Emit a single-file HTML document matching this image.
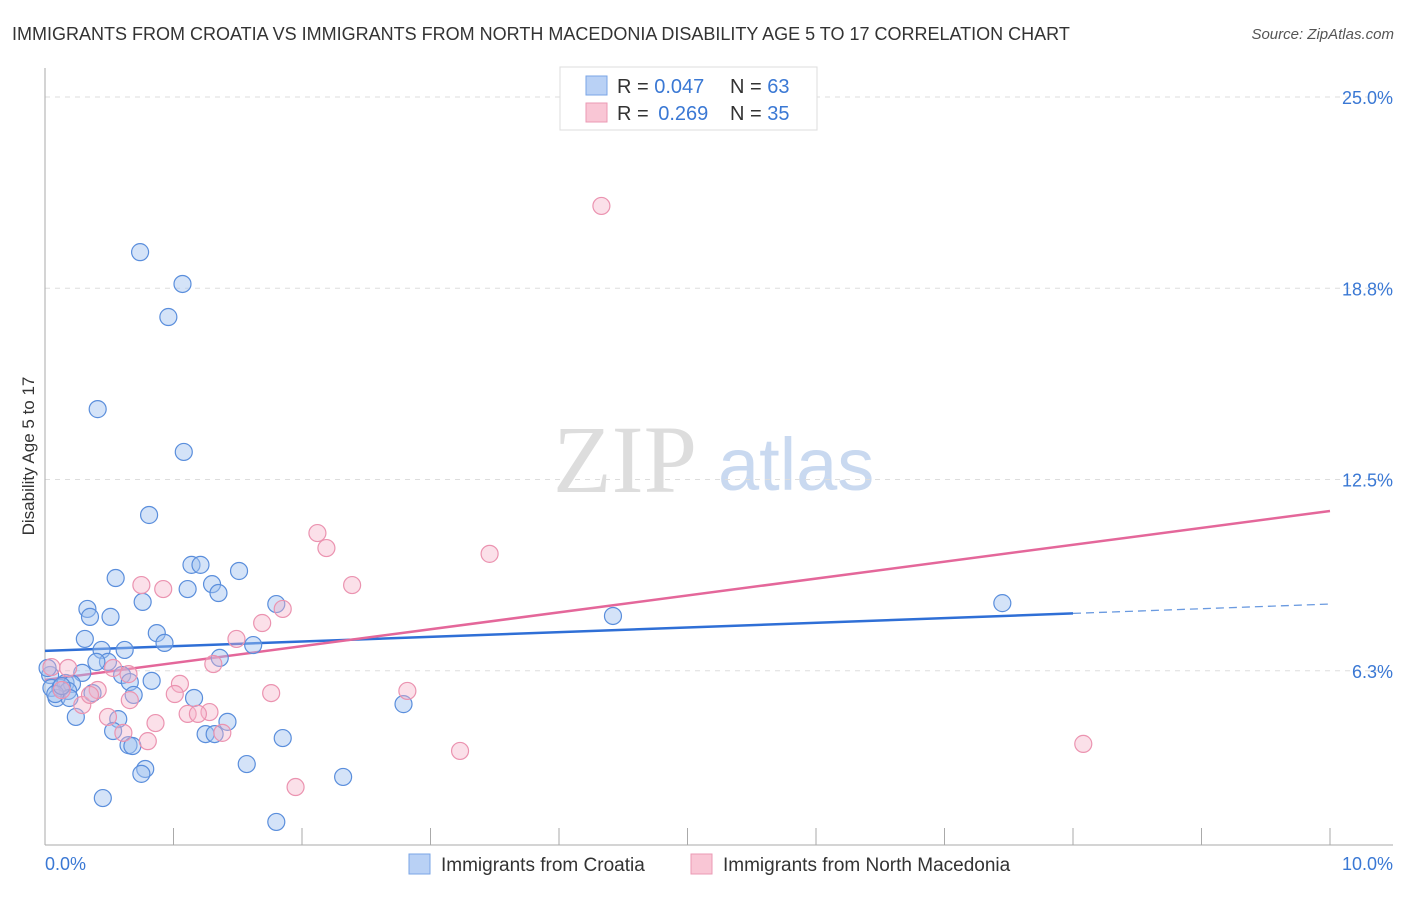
<!DOCTYPE html>
<html><head><meta charset="utf-8"><style>
body{margin:0;background:#fff;font-family:"Liberation Sans",sans-serif}
svg text{font-family:"Liberation Sans",sans-serif}
</style></head><body>
<svg id="c" width="1406" height="892" viewBox="0 0 1406 892" xmlns="http://www.w3.org/2000/svg">
<text x="12" y="40" font-size="18" fill="#333">IMMIGRANTS FROM CROATIA VS IMMIGRANTS FROM NORTH MACEDONIA DISABILITY AGE 5 TO 17 CORRELATION CHART</text>
<text x="1394" y="39" font-size="15" fill="#555" font-style="italic" text-anchor="end">Source: ZipAtlas.com</text>
<text x="0" y="0" transform="translate(34,456) rotate(-90)" font-size="17" fill="#333" text-anchor="middle">Disability Age 5 to 17</text>
<g>
<text x="553" y="492" font-size="96" fill="#ddd" font-family="Liberation Serif,serif" style="font-family:'Liberation Serif',serif">ZIP</text>
<text x="718" y="490" font-size="74" fill="#c9d9f0">atlas</text>
</g>
<g id="grid"></g>
<g id="axes"></g>
<g id="lines"></g>
<g id="pts"></g>
<g>
<rect x="560" y="67" width="257" height="63" fill="#fff" stroke="#ddd"/>
<rect x="586" y="76" width="21" height="19" fill="#b9d1f5" stroke="#7aa5e6"/>
<rect x="586" y="103" width="21" height="19" fill="#f9c6d5" stroke="#eb9ab4"/>
<text x="617" y="93" font-size="20" fill="#333">R = <tspan fill="#3a78d4">0.047</tspan></text>
<text x="730" y="93" font-size="20" fill="#333">N = <tspan fill="#3a78d4">63</tspan></text>
<text x="617" y="120" font-size="20" fill="#333">R = <tspan fill="#3a78d4" dx="4">0.269</tspan></text>
<text x="730" y="120" font-size="20" fill="#333">N = <tspan fill="#3a78d4">35</tspan></text>
</g>
<g>
<rect x="409" y="854" width="21" height="20" fill="#b9d1f5" stroke="#7aa5e6"/>
<text x="441" y="871" font-size="19" fill="#333">Immigrants from Croatia</text>
<rect x="691" y="854" width="21" height="20" fill="#f9c6d5" stroke="#eb9ab4"/>
<text x="723" y="871" font-size="19" fill="#333">Immigrants from North Macedonia</text>
</g>
</svg>
<script>
const blueX=[0.74,1.07,0.96,0.41,1.08,0.81,0.55,1.14,1.21,1.51,0.76,1.11,1.30,1.35,0.33,0.35,0.51,1.80,0.87,0.31,0.93,1.62,0.62,0.44,0.49,0.40,1.36,0.29,0.60,0.66,0.83,0.04,0.05,0.12,0.16,0.21,0.18,0.09,0.19,0.37,0.69,1.16,0.24,0.57,1.42,0.53,1.25,1.32,1.85,0.65,0.68,0.78,0.75,1.57,2.32,0.45,1.80,2.79,4.42,7.45,0.02,0.08,0.13];
const blueY=[19.93,18.89,17.81,14.80,13.40,11.34,9.28,9.71,9.71,9.51,8.50,8.92,9.08,8.79,8.27,8.01,8.01,8.43,7.48,7.29,7.16,7.09,6.93,6.93,6.54,6.54,6.67,6.18,6.11,5.88,5.92,6.11,5.69,5.69,5.85,5.82,5.59,5.36,5.36,5.52,5.46,5.36,4.74,4.67,4.58,4.28,4.18,4.18,4.05,3.82,3.79,3.04,2.88,3.20,2.78,2.09,1.31,5.16,8.04,8.46,6.34,5.49,5.75];
const pinkX=[4.33,2.12,2.19,3.46,2.39,0.75,0.92,1.85,1.69,1.49,1.31,0.18,0.53,0.65,0.41,1.05,1.01,1.76,2.82,0.66,0.29,1.28,1.11,1.19,0.86,0.49,0.61,1.38,0.80,3.23,1.95,8.08,0.05,0.13,0.35];
const pinkY=[21.44,10.75,10.26,10.07,9.05,9.05,8.92,8.27,7.81,7.29,6.47,6.34,6.34,6.14,5.62,5.82,5.49,5.52,5.59,5.29,5.13,4.90,4.84,4.84,4.54,4.74,4.22,4.22,3.95,3.63,2.45,3.86,6.37,5.62,5.46];
const yTicks=[6.25,12.5,18.75,25];
const yTickLabels=["6.3%","12.5%","18.8%","25.0%"];
const xTicks=[0,1,2,3,4,5,6,7,8,9,10];
const blueTrend=[6.90,8.43];
const pinkTrend=[5.95,11.47];
const blueSolidEnd=8.0;

const NS="http://www.w3.org/2000/svg";
const sx=v=>45+v*128.5;
const sy=v=>862-v*30.6;
function mk(tag,attrs,parent){const e=document.createElementNS(NS,tag);for(const k in attrs)e.setAttribute(k,attrs[k]);document.getElementById(parent).appendChild(e);return e;}
yTicks.forEach((t,i)=>{
  const g=mk('line',{x1:45,x2:1393,y1:sy(t),y2:sy(t),stroke:'#ddd','stroke-dasharray':'5,5'},'grid');
  
  
  const l=mk('text',{x:1393,y:sy(t)+7,'font-size':18,fill:'#3a78d4','text-anchor':'end'},'axes');
  l.textContent=yTickLabels[i];
  
  
});
const ya=mk('line',{x1:45,x2:45,y1:68,y2:845,stroke:'#aaa'},'axes');


const xa=mk('line',{x1:45,x2:1393,y1:845,y2:845,stroke:'#aaa'},'axes');


xTicks.forEach(t=>{
  const k=mk('line',{x1:sx(t),x2:sx(t),y1:828,y2:845,stroke:'#aaa'},'axes');
  
  
});
const x0=mk('text',{x:45,y:870,'font-size':18,fill:'#3a78d4'},'axes');x0.textContent='0.0%';


const x1=mk('text',{x:1393,y:870,'font-size':18,fill:'#3a78d4','text-anchor':'end'},'axes');x1.textContent='10.0%';



function pts(X,Y,fill,stroke,name){
  X.forEach((x,i)=>{
    const c=mk('circle',{cx:sx(x),cy:sy(Y[i]),r:8.5,fill:fill,stroke:stroke,'stroke-width':1.2},'pts');
    
    
  });
}
pts(blueX,blueY,'rgba(160,194,240,0.45)','#5a8edc','croatia-point');
pts(pinkX,pinkY,'rgba(246,178,200,0.4)','#eb93b0','macedonia-point');
const lerp=(a,b,t)=>a+(b-a)*t/10;
const bl=mk('line',{x1:sx(0),y1:sy(blueTrend[0]),x2:sx(blueSolidEnd),y2:sy(lerp(blueTrend[0],blueTrend[1],blueSolidEnd)),stroke:'#2f6fd6','stroke-width':2.5},'lines');


const bd=mk('line',{x1:sx(blueSolidEnd),y1:sy(lerp(blueTrend[0],blueTrend[1],blueSolidEnd)),x2:sx(10),y2:sy(blueTrend[1]),stroke:'#6a9ae0','stroke-width':1.3,'stroke-dasharray':'8,5'},'lines');


const pl=mk('line',{x1:sx(0),y1:sy(pinkTrend[0]),x2:sx(10),y2:sy(pinkTrend[1]),stroke:'#e4679a','stroke-width':2.5},'lines');


</script>
</body></html>
